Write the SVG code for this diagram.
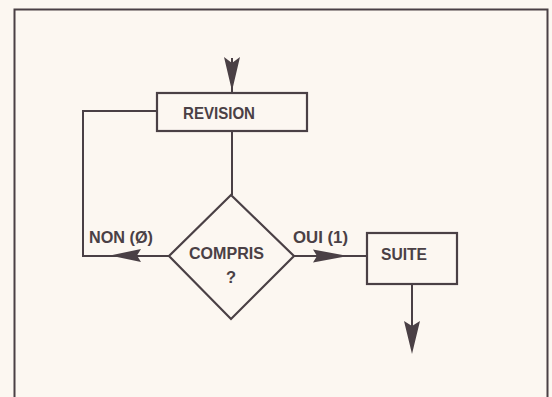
<svg xmlns="http://www.w3.org/2000/svg" width="552" height="397" viewBox="0 0 552 397">
<style>
.ln{fill:none;stroke:#4a4045;stroke-width:2}
.sh{fill:none;stroke:#4a4045;stroke-width:2.2}
.ah{fill:#4a4045;stroke:none}
.t{font-family:"Liberation Sans",Arial,sans-serif;font-weight:bold;font-size:16.5px;fill:#4a4045}
</style>
<rect x="0" y="0" width="552" height="397" fill="#fcf7f1"/>
<path d="M14.5 400 V9.5 H547.5 V400" fill="none" stroke="#4a4045" stroke-width="2"/>
<g id="connectors">
<line class="ln" x1="232" y1="58" x2="232" y2="93"/>
<path class="ah" d="M224 57 L232 63 L240 57 L232 91 Z"/>
<line class="ln" x1="232" y1="131" x2="232" y2="195"/>
<polyline class="ln" points="157,111 83,111 83,256 169,256"/>
<path class="ah" d="M110 255.5 L141 249 L137 255.5 L141 262 Z"/>
<line class="ln" x1="294" y1="256" x2="367" y2="256"/>
<path class="ah" d="M348 256 L313 249.5 L317 256 L313 262.5 Z"/>
<line class="ln" x1="412" y1="284" x2="412" y2="330"/>
<path class="ah" d="M404 321 L412 326 L420 321 L412 354 Z"/>
<text class="t" x="89" y="243" textLength="64" lengthAdjust="spacingAndGlyphs">NON (Ø)</text>
<text class="t" x="293" y="243" textLength="55" lengthAdjust="spacingAndGlyphs">OUI (1)</text>
</g>
<g id="revision">
<rect class="sh" x="157" y="93" width="150" height="38"/>
<text class="t" x="183" y="118.5" textLength="72" lengthAdjust="spacingAndGlyphs">REVISION</text>
</g>
<g id="compris">
<polygon class="sh" points="231,195 294,256 231,319 169,256"/>
<text class="t" x="189" y="259" textLength="75" lengthAdjust="spacingAndGlyphs">COMPRIS</text>
<text class="t" x="231" y="283" text-anchor="middle">?</text>
</g>
<g id="suite">
<rect class="sh" x="367" y="233" width="90" height="51"/>
<text class="t" x="381" y="260" textLength="46" lengthAdjust="spacingAndGlyphs">SUITE</text>
</g>
</svg>
